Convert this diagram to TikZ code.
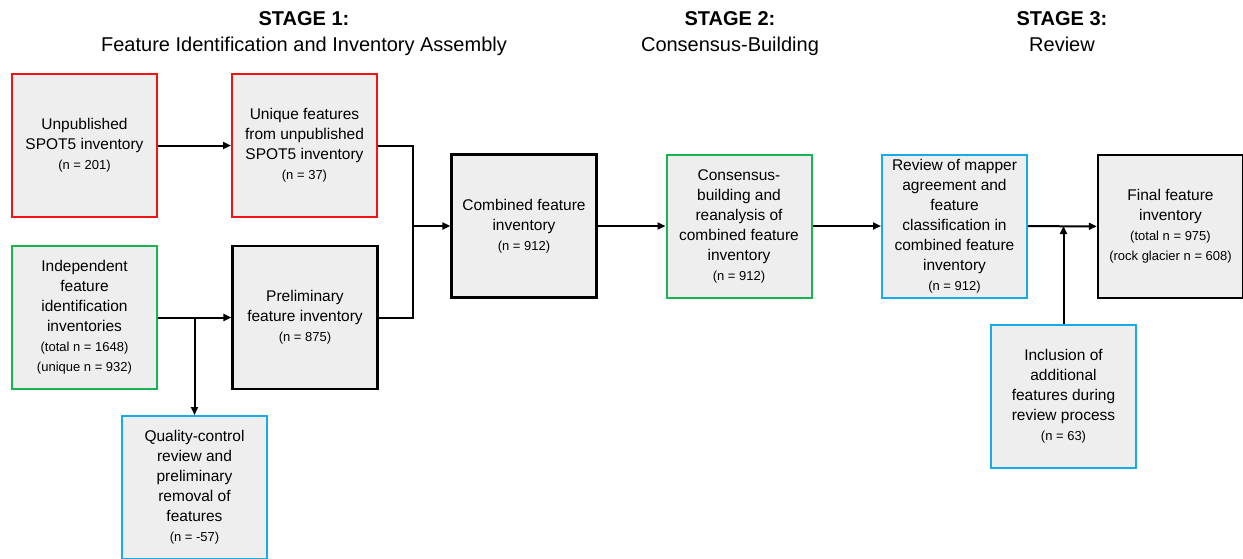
\documentclass[tikz,border=0pt]{standalone}
\usepackage{fontspec}
\setmainfont{Liberation Sans}
\usepackage{tikz}
\usetikzlibrary{arrows.meta}

\definecolor{boxred}{RGB}{240,20,20}
\definecolor{boxgreen}{RGB}{25,180,80}
\definecolor{boxblue}{RGB}{25,170,235}
\definecolor{boxfill}{RGB}{238,238,238}
\newcommand{\nsm}[1]{{\fontsize{13}{16.5}\selectfont #1}}

\begin{document}
\begin{tikzpicture}[x=1pt,y=-1pt,
  box/.style={draw=black, line width=2.3pt, fill=boxfill, minimum width=145pt, minimum height=143pt, inner sep=0pt, align=center, font=\fontsize{15.5}{20}\selectfont},
  redbox/.style={box, draw=boxred, line width=2pt},
  greenbox/.style={box, draw=boxgreen, line width=2pt},
  bluebox/.style={box, draw=boxblue, line width=2pt},
  arr/.style={line width=2pt, -{Triangle[length=8pt,width=7pt]}},
  head/.style={anchor=base, font=\fontsize{20}{25}\selectfont}]
\useasboundingbox (0,0) rectangle (1243,558);

% stage headings
\node[head] (st1) at (304,25.5) {\textbf{STAGE 1:}};
\node[head] (st1sub) at (304,51) {Feature Identification and Inventory Assembly};
\node[head] (st2) at (730,25.5) {\textbf{STAGE 2:}};
\node[head] (st2sub) at (730,51) {Consensus-Building};
\node[head] (st3) at (1062,25.5) {\textbf{STAGE 3:}};
\node[head] (st3sub) at (1062,51) {Review};

% stage 1
\node[redbox] (spot) at (84.5,145.5) {Unpublished\\SPOT5 inventory\\\nsm{(n = 201)}};
\node[redbox] (uniq) at (304.5,145.5) {Unique features\\from unpublished\\SPOT5 inventory\\\nsm{(n = 37)}};
\node[greenbox] (indep) at (84.5,317.5) {Independent\\feature\\identification\\inventories\\\nsm{(total n = 1648)}\\\nsm{(unique n = 932)}};
\node[box] (prelim) at (305,317.5) {Preliminary\\feature inventory\\\nsm{(n = 875)}};
\node[bluebox] (qc) at (194.5,487.5) {Quality-control\\review and\\preliminary\\removal of\\features\\\nsm{(n = -57)}};

% stage 2
\node[box] (comb) at (524,226) {Combined feature\\inventory\\\nsm{(n = 912)}};
\node[greenbox] (cons) at (739,226) {Consensus-\\building and\\reanalysis of\\combined feature\\inventory\\\nsm{(n = 912)}};

% stage 3
\node[bluebox] (rev) at (954.5,226) {Review of mapper\\agreement and\\feature\\classification in\\combined feature\\inventory\\\nsm{(n = 912)}};
\node[box] (final) at (1170.5,226.5) {Final feature\\inventory\\\nsm{(total n = 975)}\\\nsm{(rock glacier n = 608)}};
\node[bluebox] (incl) at (1063.5,396) {Inclusion of\\additional\\features during\\review process\\\nsm{(n = 63)}};

% connectors
\coordinate (join) at (413,226);
\draw[arr] (spot) -- (uniq);
\draw[arr] (indep) -- (prelim);
\draw[arr] (qc.north |- indep.east) -- (qc.north);
\draw[line width=2pt] (uniq.east) -| (join);
\draw[line width=2pt] (prelim.east) -| (join);
\draw[arr] (join) -- (comb.west);
\draw[arr] (comb) -- (cons);
\draw[arr] (cons) -- (rev);
\draw[arr] (rev) -- (final);
\draw[arr] (incl.north) -- (incl.north |- rev.east);
\end{tikzpicture}
\end{document}
